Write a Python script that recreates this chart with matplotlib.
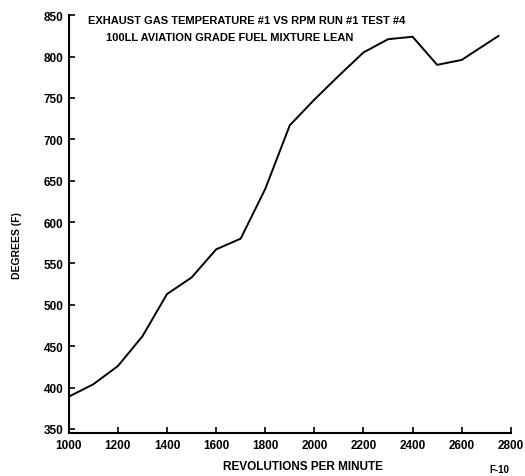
import numpy as np
import matplotlib.pyplot as plt

rpm = [1000, 1100, 1200, 1300, 1400, 1500, 1600, 1700, 1800, 1900,
       2000, 2100, 2200, 2300, 2400, 2500, 2600, 2750]
egt = [389, 404, 426, 462, 513, 533, 567, 580, 640, 717,
       748, 777, 805, 821, 824, 790, 796, 825]
xticks = list(range(1000, 2801, 200))
yticks = list(range(350, 851, 50))

plt.rcParams['font.family'] = ['Liberation Sans', 'DejaVu Sans']
plt.rcParams['font.weight'] = 'bold'

fig = plt.figure(figsize=(5.25, 4.77), dpi=100)
ax = fig.add_axes([0.131, 0.090, 0.842, 0.876])
ax.plot(rpm, egt, color='black', lw=1.4)

ax.set_xlim(1000, 2800)
ax.set_ylim(345, 850)
ax.set_xticks(xticks)
ax.set_yticks(yticks)
ax.tick_params(direction='in', length=4, width=1.2, labelsize=8.5, pad=4)
for s in ['top', 'right']:
    ax.spines[s].set_visible(False)
for s in ['left', 'bottom']:
    ax.spines[s].set_linewidth(1.5)

ax.set_xlabel('REVOLUTIONS PER MINUTE', fontsize=8.5, fontweight='bold')
ax.xaxis.set_label_coords(0.53, -0.065)
ax.set_ylabel('DEGREES (F)', fontsize=7.5, fontweight='bold')
ax.yaxis.set_label_coords(-0.105, 0.45)

fig.text(0.168, 0.957, 'EXHAUST GAS TEMPERATURE #1 VS RPM RUN #1 TEST #4',
         fontsize=8, fontweight='bold', va='center')
fig.text(0.202, 0.920, '100LL AVIATION GRADE FUEL MIXTURE LEAN',
         fontsize=8, fontweight='bold', va='center')
fig.text(0.933, 0.004, 'F-10', fontsize=7, va='bottom')

fig.savefig('out.png', dpi=100)
